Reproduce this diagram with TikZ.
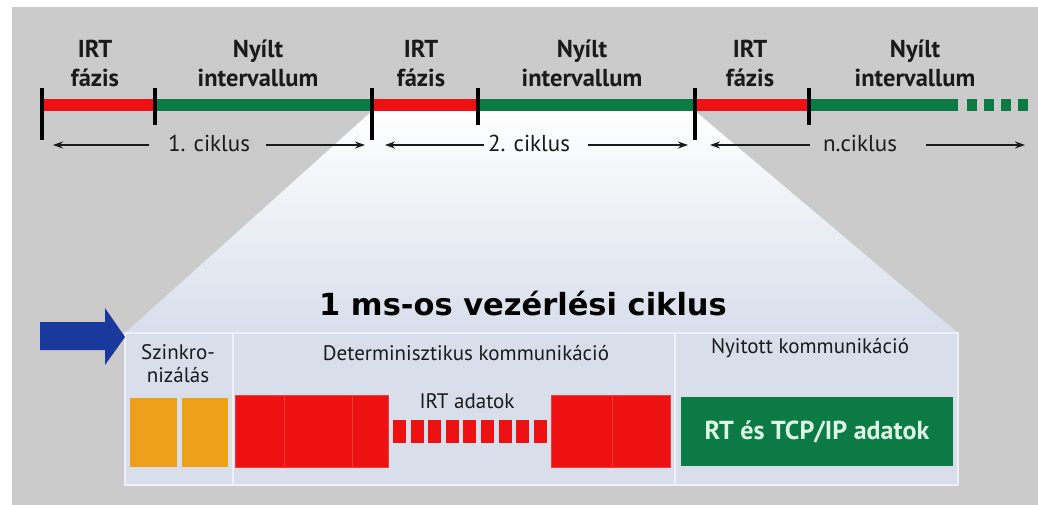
\documentclass[tikz,border=0pt]{standalone}
\usepackage{fontspec}
\setmainfont{PT Sans}
\newfontfamily\titlefont{DejaVu Sans}
\usetikzlibrary{arrows.meta}
\definecolor{bggray}{HTML}{CBCBCB}
\definecolor{irtred}{HTML}{EE1111}
\definecolor{redline}{HTML}{F23A3A}
\definecolor{opengreen}{HTML}{0B7A44}
\definecolor{syncorange}{HTML}{EEA01A}
\definecolor{arrowblue}{HTML}{1A399C}
\definecolor{boxblue}{HTML}{D8DFEB}
\definecolor{boxline}{HTML}{EEF1F7}
\definecolor{mint}{HTML}{DDF7E6}
\definecolor{txt}{HTML}{1A1A1A}
\tikzset{
  irtseg/.style={draw=irtred, line width=12.5pt},
  openseg/.style={draw=opengreen, line width=12.5pt},
  tickmark/.style={draw=black, line width=4.5pt},
  phase/.style={align=center, inner sep=0pt, anchor=south, text=txt,
    font=\fontsize{24.5}{29}\selectfont\bfseries},
  cyclbl/.style={inner sep=0pt, anchor=base, text=txt, font=\fontsize{23}{27}\selectfont},
  cyc/.style={draw=txt, line width=1.3pt, -{Stealth[length=10pt,width=7pt]}},
  section/.style={draw=boxline, line width=1.5pt, fill=boxblue, minimum height=152pt, inner sep=0pt},
  seclbl/.style={inner sep=0pt, text=txt, font=\fontsize{21}{23}\selectfont},
  orangeblk/.style={fill=syncorange, minimum height=69pt, inner sep=0pt},
  redblk/.style={fill=irtred, draw=redline, line width=0.8pt, minimum height=72pt, inner sep=0pt},
  sqblk/.style={fill=irtred, minimum width=13pt, minimum height=23pt, inner sep=0pt},
}
\begin{document}
\begin{tikzpicture}[x=1pt,y=-1pt]
\useasboundingbox (0,0) rectangle (1038,505);
\fill[bggray] (12,7) rectangle (1038,505);
% zoom region
\shade[top color=white, bottom color=boxblue] (372,111) -- (695,111) -- (958,333) -- (125,333) -- cycle;
% timeline coordinates
\coordinate (t0) at (42,105);
\coordinate (t1) at (155,105);
\coordinate (t2) at (372,105);
\coordinate (t3) at (478,105);
\coordinate (t4) at (695,105);
\coordinate (t5) at (809,105);
\coordinate (t6) at (958,105);
\coordinate (t7) at (967,105);
\coordinate (t8) at (1028,105);
\draw[irtseg] (t0) -- (t1);
\draw[openseg] (t1) -- (t2);
\draw[irtseg] (t2) -- (t3);
\draw[openseg] (t3) -- (t4);
\draw[irtseg] (t4) -- (t5);
\draw[openseg] (t5) -- (t6);
\draw[openseg, dash pattern=on 10pt off 7pt] (t7) -- (t8);
% ticks
\foreach \t in {t0,t2,t4} \draw[tickmark] ([yshift=17pt]\t) -- ([yshift=-35pt]\t);
\foreach \t in {t1,t3,t5} \draw[tickmark] ([yshift=17pt]\t) -- ([yshift=-20pt]\t);
% phase labels
\node[phase] (p1) at (95,87) {IRT\\fázis};
\node[phase] (p2) at (258,87) {Nyílt\\intervallum};
\node[phase] (p3) at (421,87) {IRT\\fázis};
\node[phase] (p4) at (582,87) {Nyílt\\intervallum};
\node[phase] (p5) at (750,87) {IRT\\fázis};
\node[phase] (p6) at (915,87) {Nyílt\\intervallum};
% cycle labels and arrows
\node[cyclbl] (c1) at (209,152) {1. ciklus};
\node[cyclbl] (c2) at (529,152) {2. ciklus};
\node[cyclbl] (cn) at (860,152) {n.ciklus};
\coordinate (a1l) at (53,145);
\coordinate (a1r) at (365,145);
\coordinate (a2l) at (385,145);
\coordinate (a2r) at (688,145);
\coordinate (anl) at (710,145);
\coordinate (anr) at (1025,145);
\draw[cyc] ([xshift=-19pt,yshift=7pt]c1.base west) -- (a1l);
\draw[cyc] ([xshift=16pt,yshift=7pt]c1.base east) -- (a1r);
\draw[cyc] ([xshift=-4pt,yshift=7pt]c2.base west) -- (a2l);
\draw[cyc] ([xshift=18pt,yshift=7pt]c2.base east) -- (a2r);
\draw[cyc] ([xshift=-13pt,yshift=7pt]cn.base west) -- (anl);
\draw[cyc] ([xshift=29pt,yshift=7pt]cn.base east) -- (anr);
% title
\node[inner sep=0pt, anchor=base, font=\titlefont\fontsize{30.5}{34}\selectfont\bfseries] (title) at (523,315) {1 ms-os vezérlési ciklus};
% box sections
\node[section, minimum width=108pt] (sync) at (179,409) {};
\node[section, minimum width=442pt] (det) at (454,409) {};
\node[section, minimum width=283pt] (open) at (816.5,409) {};
% blue arrow
\fill[arrowblue] (40,322) -- (105,322) -- (105,308) -- (125,337) -- (105,365) -- (105,350) -- (40,350) -- cycle;
% section labels
\node[seclbl, align=center, anchor=south] (synclbl) at (178,383) {Szinkro-\\nizálás};
\node[seclbl, anchor=base] (detlbl) at (466,360) {Determinisztikus kommunikáció};
\node[seclbl, anchor=base] (openlbl) at (810,353) {Nyitott kommunikáció};
\node[seclbl, anchor=base] (irtlbl) at (467,408) {IRT adatok};
% sync blocks
\node[orangeblk, minimum width=47pt] (o1) at (153.5,432.5) {};
\node[orangeblk, minimum width=46pt] (o2) at (205,432.5) {};
% IRT blocks
\node[redblk, minimum width=49pt] (r1) at (259.5,431) {};
\node[redblk, minimum width=68pt] (r2) at (318,431) {};
\node[redblk, minimum width=36pt] (r3) at (370,431) {};
\node[redblk, minimum width=61pt] (r4) at (581.5,431) {};
\node[redblk, minimum width=58pt] (r5) at (641,431) {};
\foreach \k in {0,...,8} \node[sqblk] (s\k) at (399.5+17.6*\k,431.5) {};
% open block
\node[fill=opengreen, minimum width=272pt, minimum height=69pt, inner sep=0pt,
      text=mint, font=\fontsize{26}{30}\selectfont\bfseries] (rt) at (817,431.5) {RT és TCP/IP adatok};
\end{tikzpicture}
\end{document}
